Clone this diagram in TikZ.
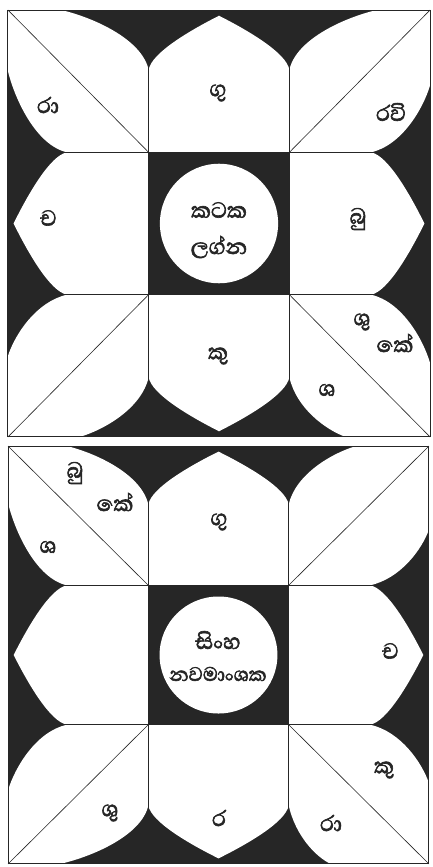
\documentclass[tikz,border=0pt]{standalone}
\usepackage{fontspec}
\newfontfamily\sinhala[Script=Sinhala, FakeBold=2.2]{Abhaya Libre}
\definecolor{ink}{HTML}{262626}
\tikzset{
  planet/.style={font=\sinhala\fontsize{28}{28}\selectfont, text=ink, inner sep=0pt},
  gridline/.style={draw=ink, line width=1pt},
  diagline/.style={draw=ink, line width=0.6pt}
}

\begin{document}
\begin{tikzpicture}[x=1pt, y=-1pt]
    % Paper
    \fill[white] (0,0) rectangle (432,867);
    \useasboundingbox (0,0) rectangle (432,867);

    % Top chart (kataka lagna)
    \begin{scope}[shift={(219,223.5)}, xscale=140.7, yscale=142.3]
        \fill[ink] (-1.5,-1.5) rectangle (1.5,1.5);
        % corner leaves
        \foreach \r/\eh/\ev in {0/0.38/0.43, 90/0.57/0.51, 180/0.6/0.52, 270/0.53/0.38}
            \fill[white, rotate=\r, shift={(-1.5,-1.5)}] (0,0) -- (\eh,0) .. controls ({\eh+0.35*(1-\eh)},0.05) and (0.95,0.2) .. (1,0.42) -- (1,1) -- (0.42,1) .. controls (0.2,0.95) and (0.05,{\ev+0.35*(1-\ev)}) .. (0,\ev) -- cycle;
        % side petals
        \foreach \r in {0,90,180,270}
            \fill[white, rotate=\r, shift={(-0.5,-1.5)}] (0,1) -- (0,0.42) .. controls (0.02,0.3) and (0.3,0.14) .. (0.5,0.04) .. controls (0.7,0.14) and (0.98,0.3) .. (1,0.42) -- (1,1) -- cycle;
        \fill[white] (0,0) circle (0.42);
        % lines
        \foreach \r in {0,90,180,270}
            \draw[diagline, rotate=\r] (-1.5,-1.5) -- (-0.5,-0.5);
        \foreach \t in {-0.5,0.5} {
            \draw[gridline] (\t,-1.5) -- (\t,1.5);
            \draw[gridline] (-1.5,\t) -- (1.5,\t);
        }
        \draw[gridline] (-1.5,-1.5) rectangle (1.5,1.5);
    \end{scope}
    \node[planet] (ra1) at (48,105) {රා};
    \node[planet] (gu1) at (218,93) {ගු};
    \node[planet] (ravi) at (391,112) {රවි};
    \node[planet] (ca1) at (48,218) {ච};
    \node[planet] (kataka) at (219,210) {කටක};
    \node[planet] (lagna) at (219,247) {ලග්න};
    \node[planet] (bu1) at (358,219) {බු};
    \node[planet] (su1) at (362,322) {ශු};
    \node[planet] (ke1) at (395,343) {කේ};
    \node[planet] (sa1) at (327,390) {ශ};
    \node[planet] (ku1) at (218,356) {කු};

    % Bottom chart (simha navamsaka)
    \begin{scope}[shift={(218.5,655)}, xscale=140.3, yscale=139.3]
        \fill[ink] (-1.5,-1.5) rectangle (1.5,1.5);
        % corner leaves
        \foreach \r/\eh/\ev in {0/0.42/0.41, 90/0.53/0.37, 180/0.7/0.58, 270/0.6/0.52}
            \fill[white, rotate=\r, shift={(-1.5,-1.5)}] (0,0) -- (\eh,0) .. controls ({\eh+0.35*(1-\eh)},0.05) and (0.95,0.2) .. (1,0.42) -- (1,1) -- (0.42,1) .. controls (0.2,0.95) and (0.05,{\ev+0.35*(1-\ev)}) .. (0,\ev) -- cycle;
        % side petals
        \foreach \r in {0,90,180,270}
            \fill[white, rotate=\r, shift={(-0.5,-1.5)}] (0,1) -- (0,0.42) .. controls (0.02,0.3) and (0.3,0.14) .. (0.5,0.04) .. controls (0.7,0.14) and (0.98,0.3) .. (1,0.42) -- (1,1) -- cycle;
        \fill[white] (0,0) circle (0.42);
        % lines
        \foreach \r in {0,90,180,270}
            \draw[diagline, rotate=\r] (-1.5,-1.5) -- (-0.5,-0.5);
        \foreach \t in {-0.5,0.5} {
            \draw[gridline] (\t,-1.5) -- (\t,1.5);
            \draw[gridline] (-1.5,\t) -- (1.5,\t);
        }
        \draw[gridline] (-1.5,-1.5) rectangle (1.5,1.5);
    \end{scope}
    \node[planet] (bu2) at (75,473) {බු};
    \node[planet] (ke2) at (115,502) {කේ};
    \node[planet] (sa2) at (48,547) {ශ};
    \node[planet] (gu2) at (219,522) {ගු};
    \node[planet] (simha) at (218,640) {සිංහ};
    \node[planet, font=\sinhala\fontsize{25}{25}\selectfont] (navamsa) at (218,674) {නවමාංශක};
    \node[planet] (ca2) at (390,651) {ච};
    \node[planet] (su2) at (110,813) {ශු};
    \node[planet] (ra2) at (219,818) {ර};
    \node[planet] (ra3) at (331,823) {රා};
    \node[planet] (ku2) at (384,770) {කු};
\end{tikzpicture}
\end{document}
